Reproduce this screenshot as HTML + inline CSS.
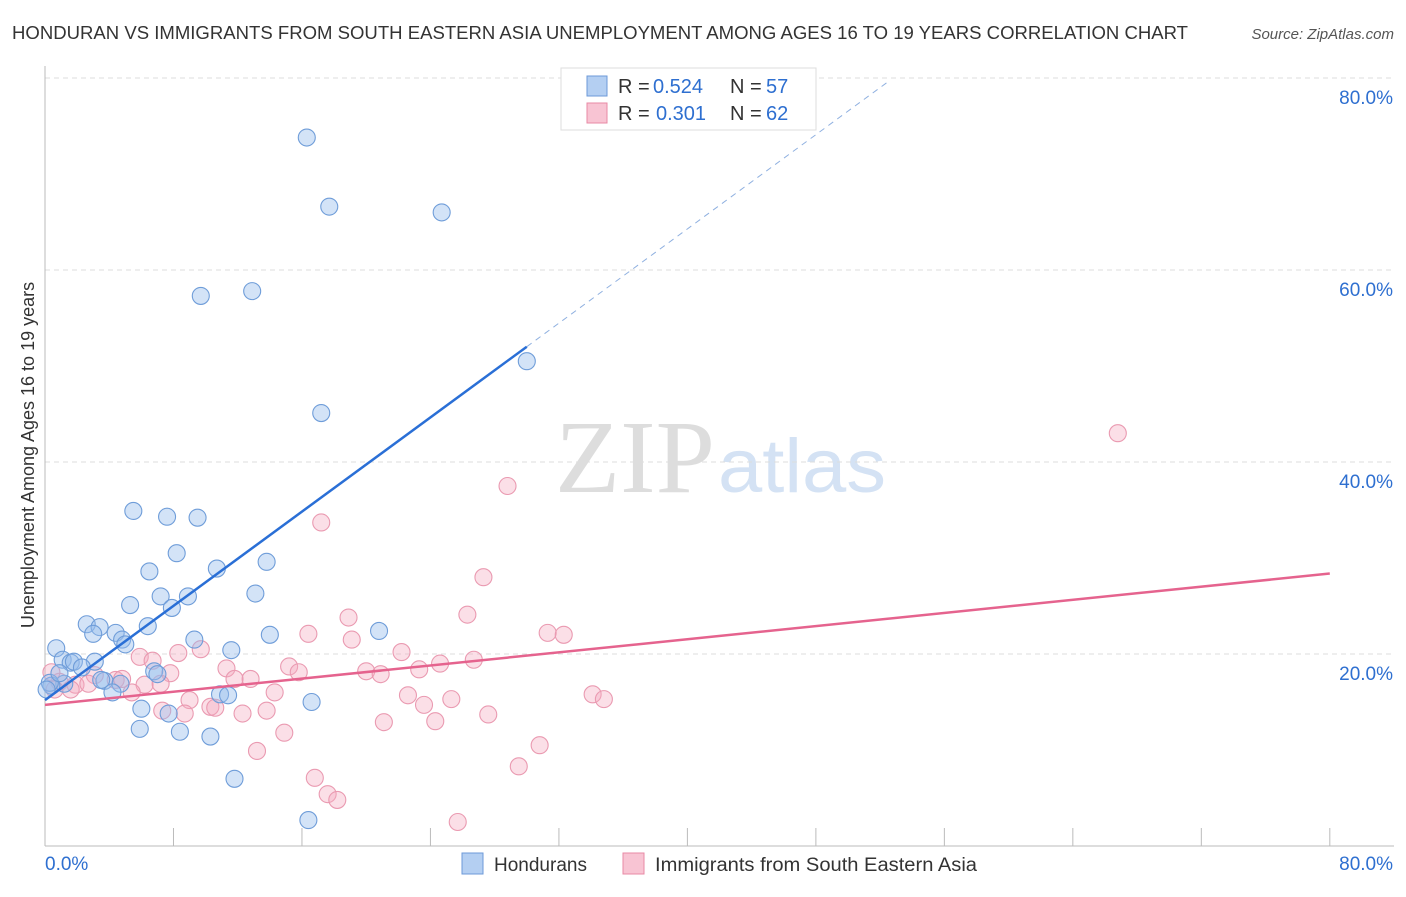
<!DOCTYPE html>
<html><head><meta charset="utf-8"><style>
body{margin:0;background:#fff;font-family:"Liberation Sans",sans-serif}
</style></head><body>
<svg id="c" width="1406" height="892" xmlns="http://www.w3.org/2000/svg">
<text x="12" y="39" font-size="18" fill="#333" textLength="1176" lengthAdjust="spacingAndGlyphs">HONDURAN VS IMMIGRANTS FROM SOUTH EASTERN ASIA UNEMPLOYMENT AMONG AGES 16 TO 19 YEARS CORRELATION CHART</text>
<text x="1394" y="39" font-size="15" fill="#555" font-style="italic" text-anchor="end">Source: ZipAtlas.com</text>
<text x="555" y="492" font-size="104" fill="#ddd" font-family="Liberation Serif" textLength="160" lengthAdjust="spacingAndGlyphs">ZIP</text>
<text x="718" y="492" font-size="76" fill="#d4e2f4" textLength="168" lengthAdjust="spacingAndGlyphs">atlas</text>
<text x="34" y="455" font-size="18" fill="#333" text-anchor="middle" transform="rotate(-90 34 455)">Unemployment Among Ages 16 to 19 years</text>
<g id="grid"></g><g id="pts"></g><g id="lines"></g>
<g>
<rect x="561" y="68" width="255" height="62" fill="#fff" stroke="#ddd"/>
<rect x="587" y="76" width="20" height="20" fill="#b4cff2" stroke="#6d9ad8"/>
<rect x="587" y="103" width="20" height="20" fill="#f8c4d3" stroke="#e88aa5"/>
<text x="618" y="93" font-size="20" fill="#333">R =</text><text x="653" y="93" font-size="20" fill="#2e6fd0">0.524</text>
<text x="730" y="93" font-size="20" fill="#333">N =</text><text x="766" y="93" font-size="20" fill="#2e6fd0">57</text>
<text x="618" y="120" font-size="20" fill="#333">R =</text><text x="656" y="120" font-size="20" fill="#2e6fd0">0.301</text>
<text x="730" y="120" font-size="20" fill="#333">N =</text><text x="766" y="120" font-size="20" fill="#2e6fd0">62</text>
</g>
<g>
<rect x="462" y="853" width="21" height="21" fill="#b4cff2" stroke="#6d9ad8"/>
<text x="494" y="871" font-size="19" fill="#333">Hondurans</text>
<rect x="623" y="853" width="21" height="21" fill="#f8c4d3" stroke="#e88aa5"/>
<text x="655" y="871" font-size="19" fill="#333" textLength="322" lengthAdjust="spacingAndGlyphs">Immigrants from South Eastern Asia</text>
</g>
</svg>
<script>
const yTicks=[20,40,60,80];
const xTickLabels=["0.0%","80.0%"];
const blueX=[16.3,17.7,24.7,9.7,12.9,30.0,17.2,5.5,7.6,9.5,8.2,6.5,13.8,10.7,5.3,7.2,8.9,7.9,13.1,2.6,3.4,3.0,6.4,4.4,4.8,5.0,9.3,11.6,14.0,20.8,0.7,1.1,1.6,1.8,3.1,2.3,1.2,0.4,3.7,4.7,6.8,7.0,4.2,10.9,11.4,16.6,6.0,7.7,5.9,8.4,10.3,11.8,16.4,0.3,0.1,0.9,3.5];
const blueY=[73.8,66.6,66.0,57.3,57.8,50.5,45.1,34.9,34.3,34.2,30.5,28.6,29.6,28.9,25.1,26.0,26.0,24.8,26.3,23.1,22.8,22.1,22.9,22.2,21.5,21.0,21.5,20.4,22.0,22.4,20.6,19.4,19.1,19.2,19.2,18.6,16.9,16.7,17.2,16.9,18.2,17.9,16.0,15.8,15.7,15.0,14.3,13.8,12.2,11.9,11.4,7.0,2.7,17.0,16.3,18.0,17.3];
const pinkX=[66.8,28.8,17.2,27.3,18.9,26.3,16.4,19.1,31.3,32.3,5.9,8.3,9.7,6.7,22.2,24.6,26.7,15.2,20.0,20.9,23.3,11.3,12.8,15.8,7.8,11.8,3.1,4.4,4.8,0.9,1.9,2.7,0.6,1.6,6.2,7.2,5.4,14.3,22.6,23.6,25.3,34.1,34.8,9.0,10.3,10.6,7.3,8.7,12.3,13.8,27.6,21.1,24.3,14.9,30.8,13.2,29.5,16.8,17.6,18.2,25.7,0.4];
const pinkY=[43.0,37.5,33.7,28.0,23.8,24.1,22.1,21.5,22.2,22.0,19.7,20.1,20.5,19.3,20.2,19.0,19.4,18.7,18.2,17.9,18.4,18.5,17.4,18.1,18.0,17.4,17.8,17.3,17.4,17.1,16.8,16.9,16.3,16.3,16.8,16.9,16.0,16.0,15.7,14.7,15.3,15.8,15.3,15.2,14.5,14.4,14.1,13.8,13.8,14.1,13.7,12.9,13.0,11.8,10.5,9.9,8.3,7.1,5.4,4.8,2.5,18.1];
const blueLine=[15.2,1.227], pinkLine=[14.7,0.171];
const X=v=>45+v*16.06, Y=v=>846-v*9.6;
const NS="http://www.w3.org/2000/svg";
function mk(t,a,p){const e=document.createElementNS(NS,t);for(const k in a)e.setAttribute(k,a[k]);p.appendChild(e);return e;}
const g=document.getElementById('grid');
yTicks.forEach(t=>{
 const l=mk('line',{x1:45,x2:1394,y1:Y(t),y2:Y(t),stroke:'#ddd','stroke-dasharray':'5,4'},g);
 
 
 const tx=mk('text',{x:1393,y:Y(t)+26,'font-size':19,fill:'#2e6fd0','text-anchor':'end'},g);
 tx.textContent=t.toFixed(1)+'%';
 
 
});
const ax=mk('line',{x1:45,x2:45,y1:66,y2:846,stroke:'#bbb'},g);


const bx=mk('line',{x1:45,x2:1394,y1:846,y2:846,stroke:'#bbb'},g);


for(let i=0;i<=10;i++){const t=mk('line',{x1:X(i*8),x2:X(i*8),y1:828,y2:846,stroke:'#bbb'},g);
 
 }
[[0,'start',45],[1,'end',1393]].forEach(([i,a,x])=>{const t=mk('text',{x:x,y:870,'font-size':19,fill:'#2e6fd0','text-anchor':a},g);t.textContent=xTickLabels[i];
 
 });
const p=document.getElementById('pts');
pinkX.forEach((x,i)=>{const c=mk('circle',{cx:X(x),cy:Y(pinkY[i]),r:8.5,fill:'rgba(244,170,192,0.38)',stroke:'#ea9ab1','stroke-width':1.1},p);
 
 });
blueX.forEach((x,i)=>{const c=mk('circle',{cx:X(x),cy:Y(blueY[i]),r:8.5,fill:'rgba(150,188,236,0.42)',stroke:'#6f9dd9','stroke-width':1.1},p);
 
 });
const L=document.getElementById('lines');
const b1=mk('line',{x1:X(0),y1:Y(blueLine[0]),x2:X(30),y2:Y(blueLine[0]+30*blueLine[1]),stroke:'#2a6fd6','stroke-width':2.5},L);


const b2=mk('line',{x1:X(30),y1:Y(blueLine[0]+30*blueLine[1]),x2:X(52.5),y2:Y(blueLine[0]+52.5*blueLine[1]),stroke:'#8fb0e0','stroke-width':1,'stroke-dasharray':'6,5'},L);


const p1=mk('line',{x1:X(0),y1:Y(pinkLine[0]),x2:X(80),y2:Y(pinkLine[0]+80*pinkLine[1]),stroke:'#e5638e','stroke-width':2.5},L);


</script>
</body></html>
